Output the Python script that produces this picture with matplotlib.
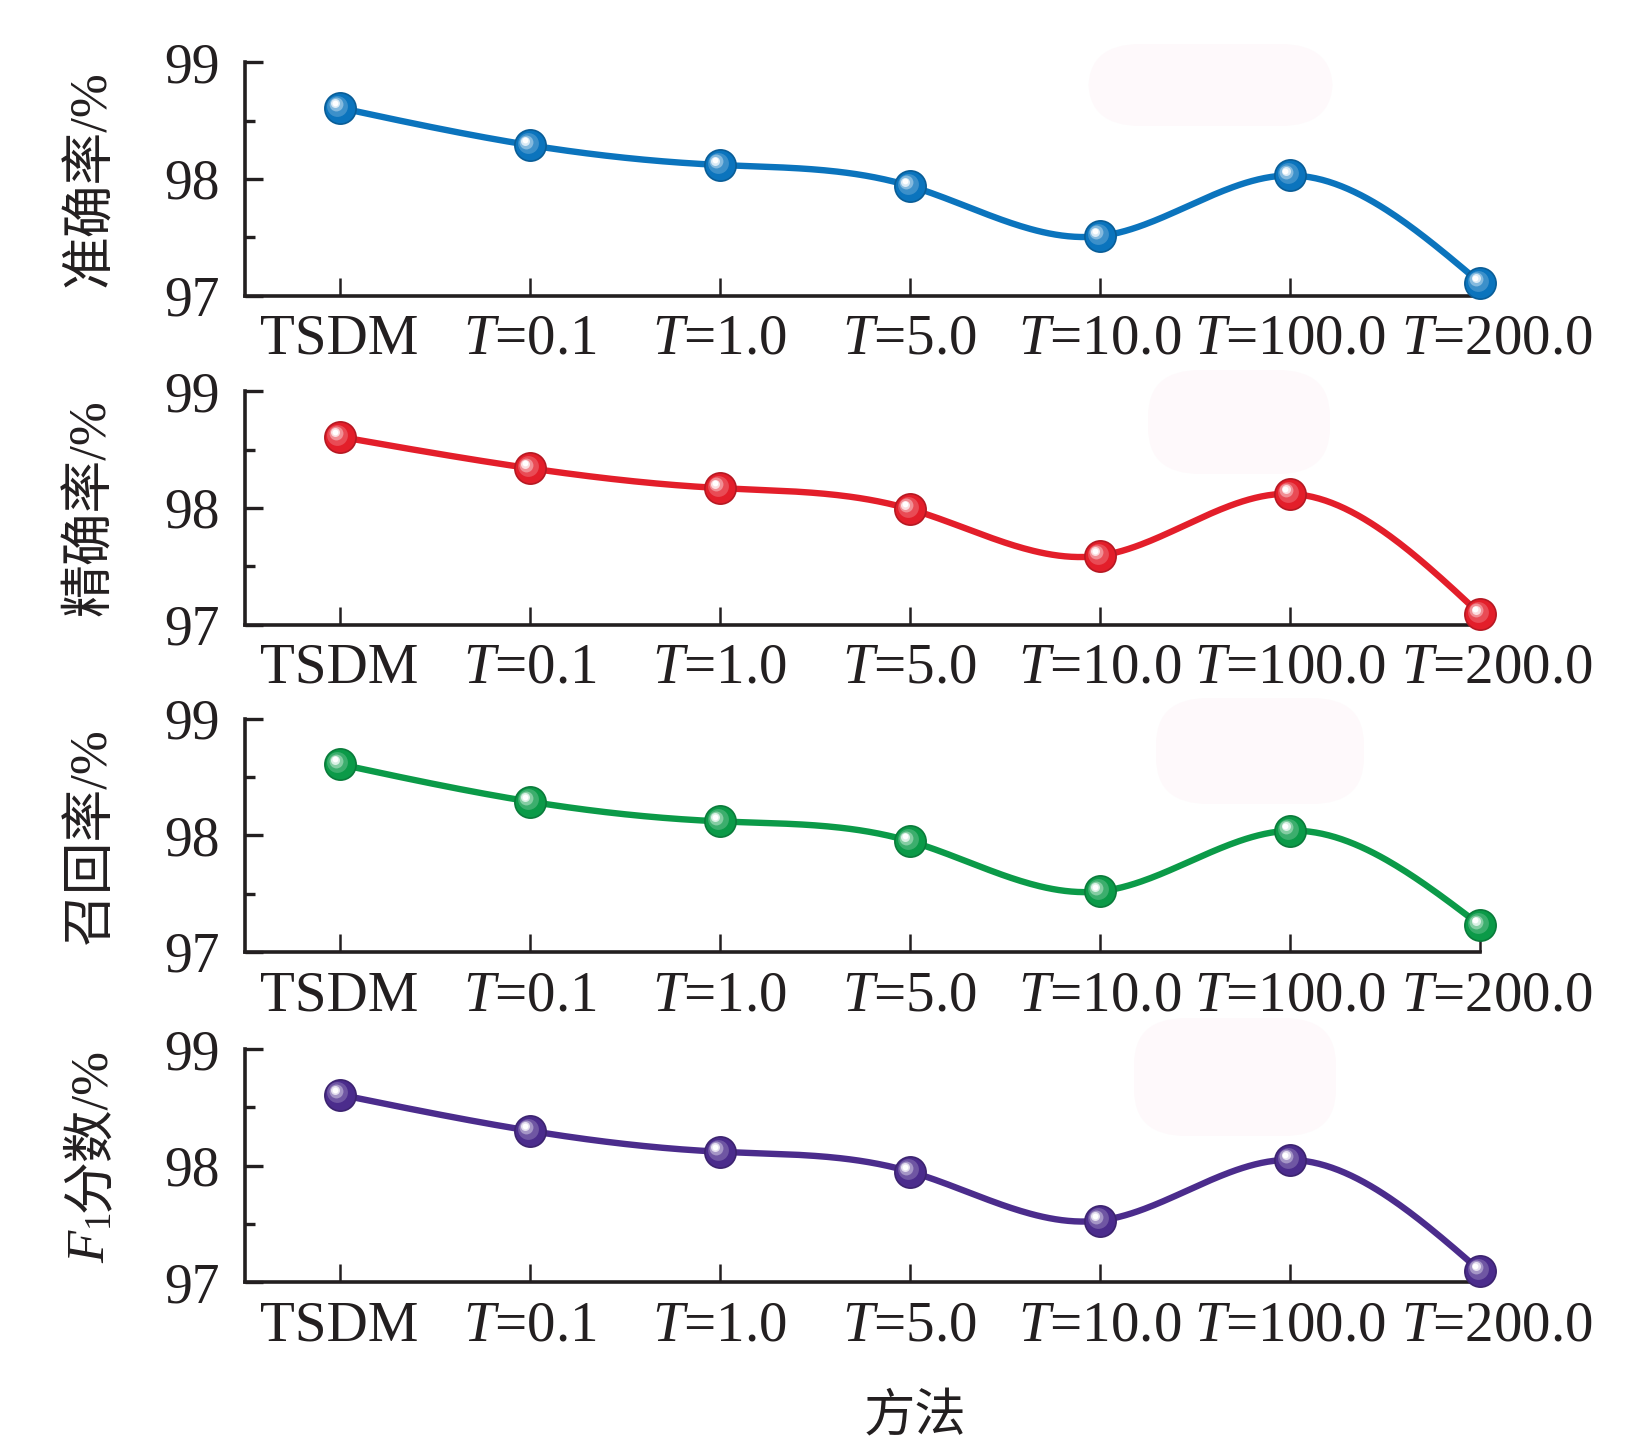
import numpy as np
import matplotlib
matplotlib.use('Agg')
import matplotlib.pyplot as plt
from matplotlib.patches import FancyBboxPatch
from matplotlib.ticker import MultipleLocator
from matplotlib import transforms
import matplotlib.colors as mcolors

# 数据：各方法下的指标（%）
methods = ['TSDM', '$T$=0.1', '$T$=1.0', '$T$=5.0', '$T$=10.0', '$T$=100.0', '$T$=200.0']
accuracy = [98.61, 98.29, 98.12, 97.94, 97.51, 98.03, 97.11]
precision = [98.61, 98.34, 98.17, 97.99, 97.59, 98.12, 97.09]
recall = [98.61, 98.29, 98.12, 97.95, 97.52, 98.04, 97.23]
f1_score = [98.61, 98.30, 98.12, 97.95, 97.53, 98.05, 97.10]

ylabels = ['准确率/%', '精确率/%', '召回率/%', None]
colors = ['#0b74bd', '#e31e2a', '#0b9a48', '#4b2c8c']

plt.rcParams['font.family'] = ['Liberation Serif', 'Noto Sans CJK SC']
plt.rcParams['mathtext.fontset'] = 'custom'
plt.rcParams['mathtext.rm'] = 'Liberation Serif'
plt.rcParams['mathtext.it'] = 'Liberation Serif:italic'


def natural_spline(y, n=60):
    # 自然三次样条，仅用于画平滑曲线
    y = np.asarray(y, dtype=float)
    k = len(y)
    A = np.zeros((k, k))
    b = np.zeros(k)
    A[0, 0] = A[-1, -1] = 1
    for i in range(1, k - 1):
        A[i, i - 1], A[i, i], A[i, i + 1] = 1, 4, 1
        b[i] = 6 * (y[i + 1] - 2 * y[i] + y[i - 1])
    M = np.linalg.solve(A, b)
    xs, ys = [], []
    for i in range(k - 1):
        u = np.linspace(0, 1, n, endpoint=(i == k - 2))
        s = ((1 - u) * y[i] + u * y[i + 1]
             + ((1 - u) ** 3 - (1 - u)) * M[i] / 6
             + (u ** 3 - u) * M[i + 1] / 6)
        xs.append(i + u)
        ys.append(s)
    return np.concatenate(xs), np.concatenate(ys)


fig = plt.figure(figsize=(16.3, 14.49), dpi=100)

# 图中淡粉色的水印残留块
blobs = [(1088, 44, 245, 82), (1148, 370, 182, 104), (1156, 698, 208, 106), (1134, 1018, 202, 118)]
for bx, by, bw, bh in blobs:
    fig.patches.append(FancyBboxPatch((bx / 1630, 1 - (by + bh) / 1449), bw / 1630, bh / 1449,
                                      boxstyle='round,pad=0,rounding_size=0.032',
                                      transform=fig.transFigure, facecolor='#fef9fb',
                                      edgecolor='none', zorder=0))

bottoms = [0.796, 0.569, 0.343, 0.115]
series = [accuracy, precision, recall, f1_score]
x = np.arange(len(methods))

for vals, lab, col, bot in zip(series, ylabels, colors, bottoms):
    ax = fig.add_axes([0.150, bot, 0.758, 0.161])
    ax.set_facecolor('none')
    sx, sy = natural_spline(vals)
    ax.plot(sx, sy, color=col, lw=4.6, clip_on=False, zorder=3, solid_capstyle='round')
    # 球形标记
    base = np.array(mcolors.to_rgb(col))
    ax.plot(x, vals, 'o', ms=22.5, color=col, mec=mcolors.to_hex(base * 0.8),
            mew=1.2, clip_on=False, zorder=4)
    for j, (ms, mix, off) in enumerate([(15, 0.2, 1.5), (10, 0.5, 2.6), (6.5, 0.85, 3.2), (4.2, 1.0, 3.4)]):
        c = base * (1 - mix) + np.ones(3) * mix
        tr = transforms.offset_copy(ax.transData, fig, x=-off, y=off, units='points')
        ax.plot(x, vals, 'o', ms=ms, color=c, mec='none', transform=tr, clip_on=False, zorder=5 + j)

    ax.set_xlim(-0.5, 6)
    ax.set_ylim(97, 99)
    ax.set_xticks(x)
    ax.set_xticklabels(methods, fontsize=41)
    ax.set_yticks([97, 98, 99])
    ax.set_yticklabels(['97', '98', '99'], fontsize=40)
    ax.yaxis.set_minor_locator(MultipleLocator(0.5))
    for s in ['top', 'right']:
        ax.spines[s].set_visible(False)
    for s in ['left', 'bottom']:
        ax.spines[s].set_linewidth(2.6)
        ax.spines[s].set_color('#231f20')
    ax.tick_params(axis='x', direction='in', length=13, width=1.8, pad=13, colors='#231f20')
    ax.tick_params(axis='y', which='major', direction='in', length=13, width=2.4, pad=18, colors='#231f20')
    ax.tick_params(axis='y', which='minor', direction='in', length=7, width=2.4, colors='#231f20')
    # 最后一个标签在原图中略微右移
    last = ax.xaxis.get_majorticklabels()[-1]
    last.set_transform(last.get_transform() + transforms.ScaledTranslation(0.17, 0, fig.dpi_scale_trans))
    if lab is not None:
        ax.set_ylabel(lab, fontsize=38, color='#231f20')
        ax.yaxis.set_label_coords(-0.104, 0.5)
    else:
        # F1 标签：斜体 F 加下标 1，后接中文
        ax.text(-0.113, 0.30, '$F_1$', transform=ax.transAxes, rotation=90, rotation_mode='anchor',
                ha='right', va='baseline', fontsize=38, color='#231f20')
        ax.text(-0.113, 0.30, '分数/%', transform=ax.transAxes, rotation=90, rotation_mode='anchor',
                ha='left', va='baseline', fontsize=38, color='#231f20')

fig.text(915 / 1630, 1 - 1417 / 1449, '方法', ha='center', va='center', fontsize=37,
         family=['Noto Sans CJK SC'], color='#231f20')

fig.savefig('out.png', dpi=100, facecolor='white')
